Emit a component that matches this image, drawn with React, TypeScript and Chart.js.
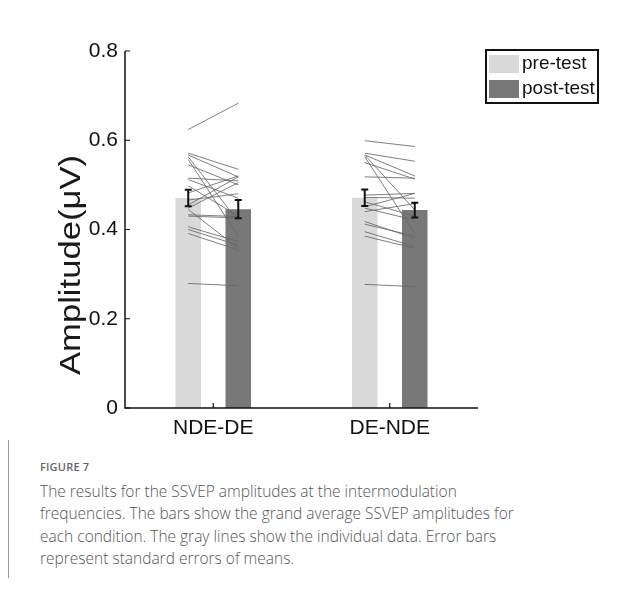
import React, { useEffect, useRef } from "react";
import { Chart, registerables } from "chart.js";
Chart.register(...registerables);

const categories = ["NDE-DE", "DE-NDE"];
const seriesLabels = ["pre-test", "post-test"];
const preMeans = [0.4705, 0.471];
const postMeans = [0.4455, 0.4435];
const preSE = [0.0185, 0.0185];
const postSE = [0.0205, 0.0165];
const yTicks = [0, 0.2, 0.4, 0.6, 0.8];

const ndeDePre = [0.624, 0.571, 0.567, 0.563, 0.557, 0.545, 0.515, 0.512, 0.498, 0.482, 0.466, 0.455, 0.448, 0.433, 0.43, 0.406, 0.4, 0.391, 0.445, 0.279];
const ndeDePost = [0.683, 0.535, 0.518, 0.418, 0.385, 0.5, 0.509, 0.47, 0.43, 0.52, 0.48, 0.518, 0.505, 0.429, 0.426, 0.373, 0.365, 0.354, 0.358, 0.274];
const deNdePre = [0.599, 0.571, 0.567, 0.567, 0.563, 0.55, 0.518, 0.477, 0.472, 0.462, 0.451, 0.448, 0.44, 0.418, 0.412, 0.395, 0.385, 0.277];
const deNdePost = [0.586, 0.553, 0.52, 0.444, 0.391, 0.513, 0.515, 0.481, 0.47, 0.43, 0.481, 0.421, 0.458, 0.38, 0.385, 0.362, 0.358, 0.272];

const individualPre = [ndeDePre, deNdePre];
const individualPost = [ndeDePost, deNdePost];

const FONT = "'Liberation Sans', Arial, sans-serif";
const PRE_COLOR = "#d9d9d9";
const POST_COLOR = "#787878";

const overlayPlugin = {
  id: "overlay",
  afterDatasetsDraw(chart: any) {
    const ctx = chart.ctx as CanvasRenderingContext2D;
    const { left, right, top, bottom } = chart.chartArea;
    const ys = chart.scales.y;
    const xs = chart.scales.x;
    const m0 = chart.getDatasetMeta(0);
    const m1 = chart.getDatasetMeta(1);
    ctx.save();
    // individual lines
    ctx.strokeStyle = "rgba(105,105,105,0.85)";
    ctx.lineWidth = 1;
    for (let g = 0; g < categories.length; g++) {
      const xa = m0.data[g].x;
      const xb = m1.data[g].x;
      const a = individualPre[g];
      const b = individualPost[g];
      for (let i = 0; i < a.length; i++) {
        ctx.beginPath();
        ctx.moveTo(xa, ys.getPixelForValue(a[i]));
        ctx.lineTo(xb, ys.getPixelForValue(b[i]));
        ctx.stroke();
      }
    }
    // error bars
    ctx.strokeStyle = "#111";
    ctx.lineWidth = 2;
    const drawErr = (x: number, m: number, se: number) => {
      const y1 = ys.getPixelForValue(m + se);
      const y2 = ys.getPixelForValue(m - se);
      ctx.beginPath();
      ctx.moveTo(x, y1);
      ctx.lineTo(x, y2);
      ctx.moveTo(x - 3.5, y1);
      ctx.lineTo(x + 3.5, y1);
      ctx.moveTo(x - 3.5, y2);
      ctx.lineTo(x + 3.5, y2);
      ctx.stroke();
    };
    for (let g = 0; g < categories.length; g++) {
      drawErr(m0.data[g].x, preMeans[g], preSE[g]);
      drawErr(m1.data[g].x, postMeans[g], postSE[g]);
    }
    // axes
    ctx.strokeStyle = "#111";
    ctx.lineWidth = 1.5;
    ctx.beginPath();
    ctx.moveTo(left, top);
    ctx.lineTo(left, bottom);
    ctx.lineTo(right, bottom);
    ctx.stroke();
    ctx.lineWidth = 1.2;
    ctx.beginPath();
    for (const v of yTicks) {
      const y = ys.getPixelForValue(v);
      ctx.moveTo(left, y);
      ctx.lineTo(left + 5, y);
    }
    for (let g = 0; g < categories.length; g++) {
      const x = xs.getPixelForValue(g);
      ctx.moveTo(x, bottom);
      ctx.lineTo(x, bottom - 5);
    }
    ctx.stroke();
    // y title
    ctx.save();
    ctx.translate(80, 265);
    ctx.rotate(-Math.PI / 2);
    ctx.font = `29px ${FONT}`;
    ctx.fillStyle = "#1a1a1a";
    ctx.textBaseline = "alphabetic";
    ctx.textAlign = "center";
    const title = "Amplitude(\u03bcV)";
    const w = ctx.measureText(title).width;
    ctx.scale(220 / w, 1);
    ctx.fillText(title, 0, 0);
    ctx.restore();
    // legend
    ctx.lineWidth = 2;
    ctx.strokeStyle = "#111";
    ctx.strokeRect(486, 50, 112, 53);
    ctx.fillStyle = PRE_COLOR;
    ctx.fillRect(489, 55, 30, 18);
    ctx.fillStyle = POST_COLOR;
    ctx.fillRect(489, 80, 30, 18);
    ctx.fillStyle = "#111";
    ctx.font = `19px ${FONT}`;
    ctx.textAlign = "left";
    ctx.textBaseline = "middle";
    ctx.fillText(seriesLabels[0], 522, 64);
    ctx.fillText(seriesLabels[1], 522, 89);
    ctx.restore();
  },
};

function ChartCanvas() {
  const ref = useRef<HTMLCanvasElement | null>(null);
  useEffect(() => {
    if (!ref.current) return;
    const chart = new Chart(ref.current, {
      type: "bar",
      data: {
        labels: categories,
        datasets: [
          { label: seriesLabels[0], data: preMeans, backgroundColor: PRE_COLOR, categoryPercentage: 0.567, barPercentage: 0.51 },
          { label: seriesLabels[1], data: postMeans, backgroundColor: POST_COLOR, categoryPercentage: 0.567, barPercentage: 0.51 },
        ],
      },
      options: {
        responsive: false,
        animation: false,
        layout: { padding: { top: 51, right: 164, bottom: 0, left: 0 } },
        plugins: { legend: { display: false }, tooltip: { enabled: false } },
        scales: {
          x: {
            grid: { display: false, drawTicks: false },
            border: { display: false },
            ticks: { font: { family: FONT, size: 21 }, color: "#111", padding: 8 },
            afterFit: (s: any) => { s.height = 32; },
          },
          y: {
            min: 0,
            max: 0.8,
            grid: { display: false, drawTicks: false },
            border: { display: false },
            afterBuildTicks: (s: any) => { s.ticks = yTicks.map((v) => ({ value: v })); },
            ticks: { font: { family: FONT, size: 21 }, color: "#111", padding: 7 },
            afterFit: (s: any) => { s.width = 125; },
          },
        },
      } as any,
      plugins: [overlayPlugin],
    });
    return () => chart.destroy();
  }, []);
  return <canvas ref={ref} width={642} height={440} style={{ position: "absolute", left: 0, top: 0, width: 642, height: 440 }} />;
}

export default function App() {
  return (
    <div style={{ position: "absolute", left: 0, top: 0, width: 642, height: 597, background: "#fff", overflow: "hidden" }}>
      <ChartCanvas />
      <div style={{ position: "absolute", left: 8, top: 440, width: 1, height: 138, background: "#9a9a9a" }} />
      <div style={{ position: "absolute", left: 40, top: 459, fontFamily: "'Open Sans', sans-serif", fontSize: 11, fontWeight: 600, color: "#666", letterSpacing: 0.2, lineHeight: "16px" }}>
        FIGURE 7
      </div>
      <div style={{ position: "absolute", left: 40, top: 480, width: 590, fontFamily: "'Open Sans', sans-serif", fontSize: 15.5, fontWeight: 300, color: "#555", lineHeight: "22.4px", whiteSpace: "nowrap" }}>
        The results for the SSVEP amplitudes at the intermodulation<br />
        frequencies. The bars show the grand average SSVEP amplitudes for<br />
        each condition. The gray lines show the individual data. Error bars<br />
        represent standard errors of means.
      </div>
    </div>
  );
}
